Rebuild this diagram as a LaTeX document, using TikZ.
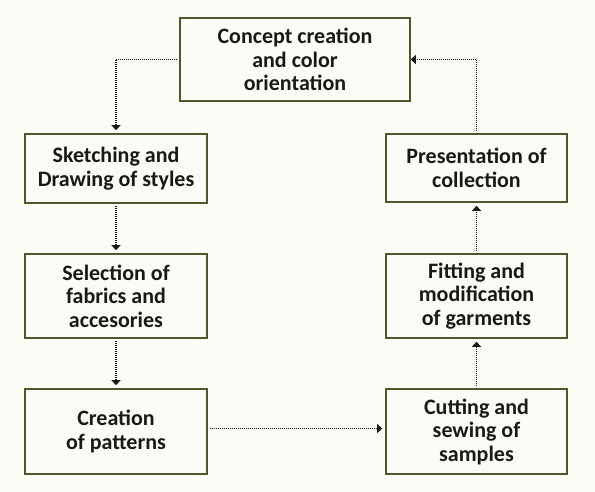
\documentclass[tikz,border=0pt]{standalone}
\usepackage{fontspec}
\setmainfont{Carlito}
\usepackage{xcolor}
\usetikzlibrary{arrows.meta}
\definecolor{boxline}{RGB}{78,88,40}
\definecolor{paper}{RGB}{252,252,246}
\definecolor{ink}{RGB}{25,25,25}

\begin{document}
\begin{tikzpicture}[x=1pt,y=-1pt,
   stage/.style={draw=boxline,line width=1.6pt,fill=paper,inner sep=0pt,
      align=center,text=ink,font=\fontsize{22}{23.5}\selectfont\bfseries},
   flow/.style={draw=ink,line width=1.3pt,dash pattern=on 1pt off 1pt,
      -{Triangle[width=9pt,length=5pt]},shorten >=3pt,shorten <=2pt}]
\useasboundingbox[fill=paper] (0,0) rectangle (595,492);
\node[stage,minimum width=230,minimum height=83] (concept) at (295,59.5)
   {Concept creation\\and color\\orientation};
\node[stage,minimum width=182,minimum height=69] (sketch) at (116,168.5)
   {Sketching and\\Drawing of styles};
\node[stage,minimum width=182,minimum height=84] (select) at (116,296)
   {Selection of\\fabrics and\\accesories};
\node[stage,minimum width=182,minimum height=85] (patterns) at (116,431.5)
   {Creation\\of patterns};
\node[stage,minimum width=181,minimum height=85] (cutting) at (476.5,431.5)
   {Cutting and\\sewing of\\samples};
\node[stage,minimum width=181,minimum height=84] (fitting) at (476.5,296)
   {Fitting and\\modification\\of garments};
\node[stage,minimum width=181,minimum height=68] (present) at (476.5,168)
   {Presentation of\\collection};
\draw[flow] (concept.west) -| (sketch.north);
\draw[flow] (sketch) -- (select);
\draw[flow] (select) -- (patterns);
\draw[flow] ([yshift=3]patterns.east) -- ([yshift=3]cutting.west);
\draw[flow] (cutting) -- (fitting);
\draw[flow] (fitting) -- (present);
\draw[flow,shorten >=0pt] (present.north) |- (concept.east);
\end{tikzpicture}
\end{document}
